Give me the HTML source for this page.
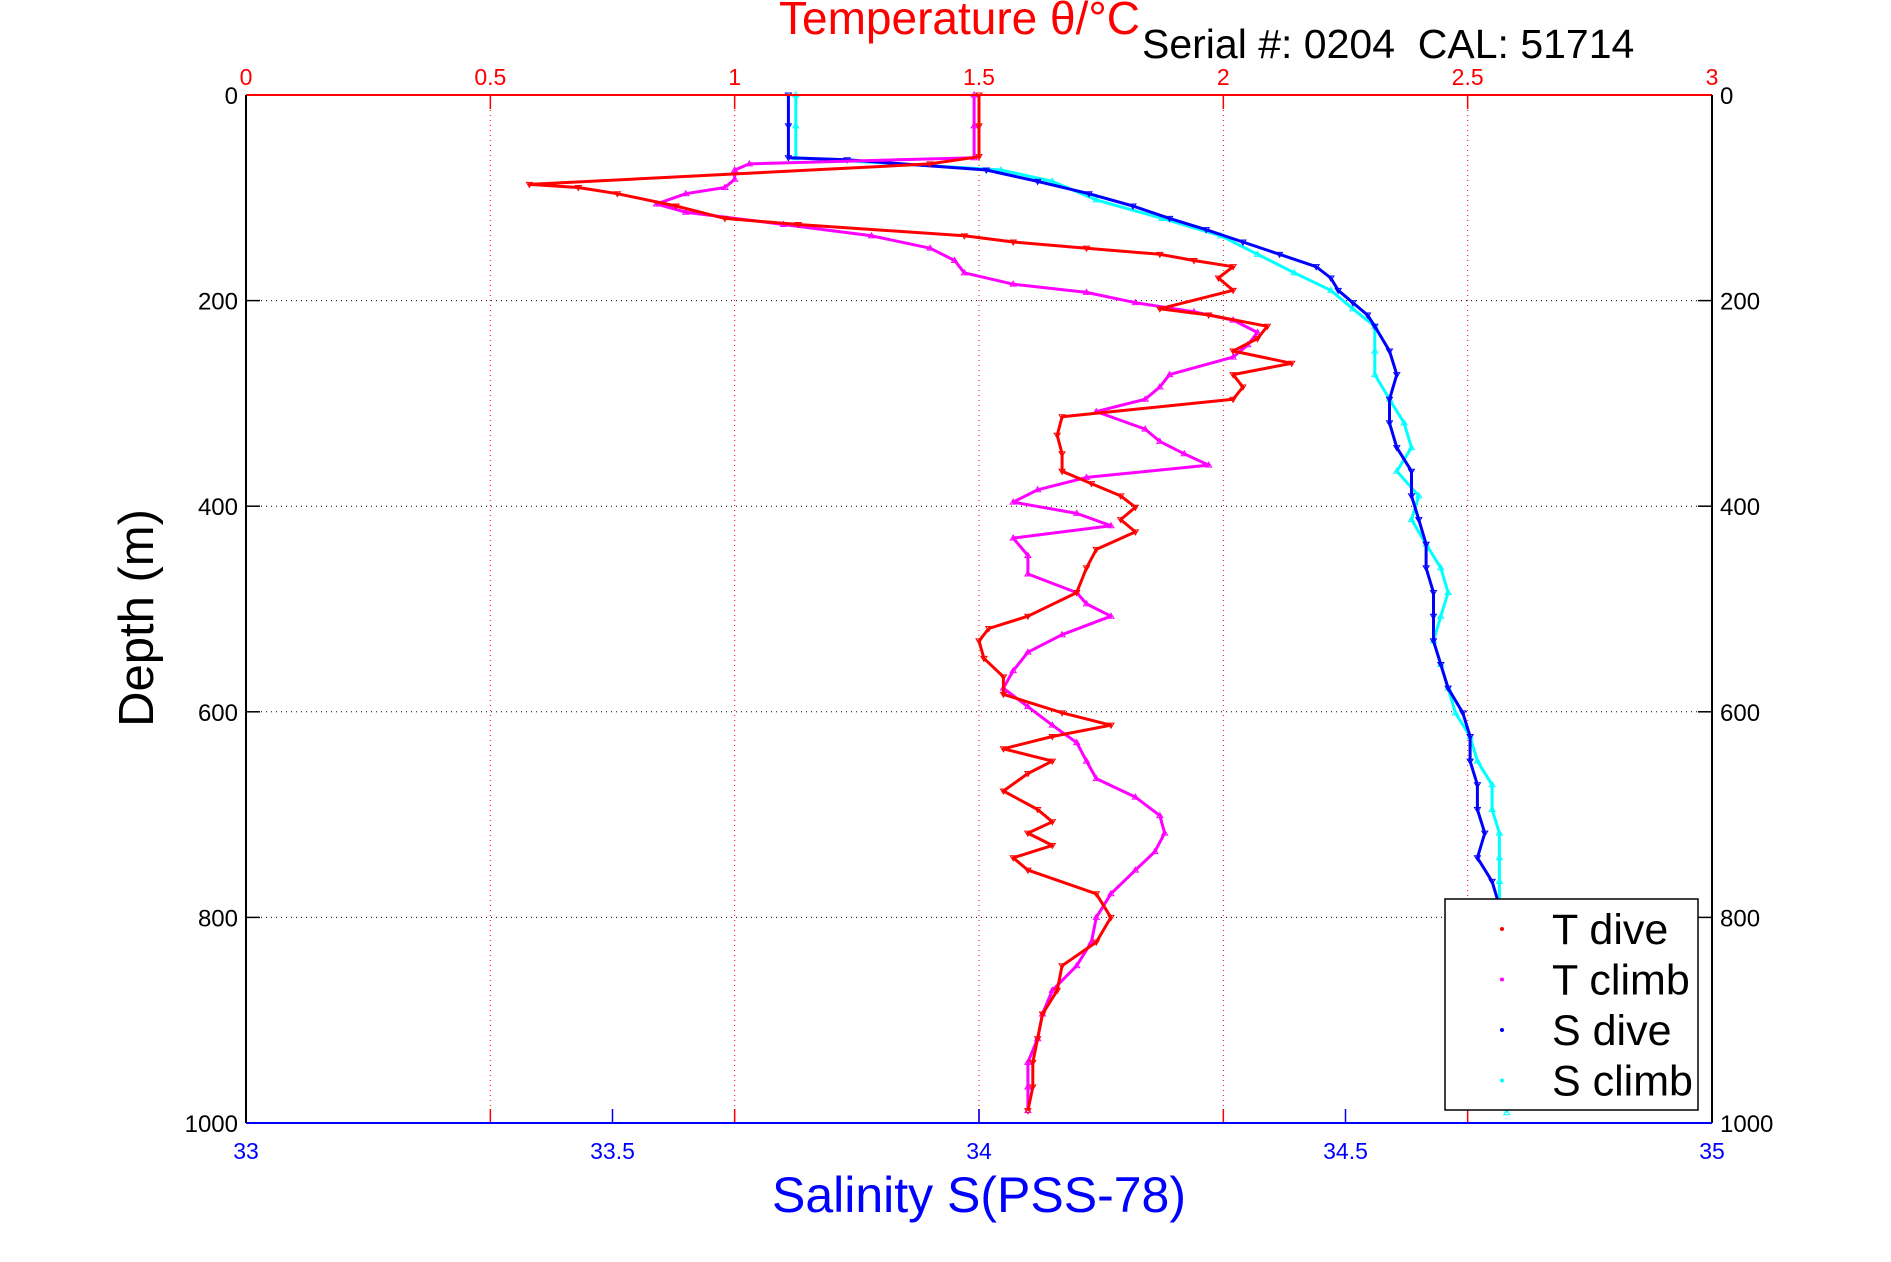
<!DOCTYPE html>
<html><head><meta charset="utf-8"><style>
html,body{margin:0;padding:0;background:#fff;}
svg{display:block;font-family:"Liberation Sans",sans-serif;}
</style></head><body>
<svg id="chart" width="1891" height="1262" viewBox="0 0 1891 1262" xmlns="http://www.w3.org/2000/svg">
<rect width="1891" height="1262" fill="#fff"/>
<g id="grid"></g>
<g id="series"></g>
<g id="axes"></g>
<text x="779" y="34" font-size="46" fill="#ff0000">Temperature θ/°C</text>
<text x="1142" y="58" font-size="41" fill="#000" xml:space="preserve">Serial #: 0204  CAL: 51714</text>
<text x="979" y="1212" font-size="50" fill="#0000ff" text-anchor="middle">Salinity S(PSS-78)</text>
<text transform="translate(153,618) rotate(-90)" font-size="49" fill="#000" text-anchor="middle">Depth (m)</text>
<g>
<rect x="1445" y="899" width="253" height="211" fill="#fff" stroke="#000" stroke-width="1.5"/>
<g id="legend-items"></g>
</g>
</svg>
<script>
const tDiveDepth=[0,30,60,67,87,90,96,108,120,126,137,143,149,155,161,167,178,190,208,214,225,237,249,261,272,284,296,313,331,349,366,378,390,401,413,425,442,460,484,507,519,531,548,566,583,601,613,624,636,648,660,677,695,707,718,730,742,754,777,800,824,847,871,894,918,941,965,988];
const tDiveVal=[1.50,1.50,1.50,1.40,0.58,0.68,0.76,0.88,0.98,1.13,1.47,1.57,1.72,1.87,1.94,2.02,1.99,2.02,1.87,1.97,2.09,2.07,2.02,2.14,2.02,2.04,2.02,1.67,1.66,1.67,1.67,1.73,1.79,1.82,1.79,1.82,1.74,1.72,1.70,1.60,1.52,1.50,1.51,1.55,1.55,1.67,1.77,1.65,1.55,1.65,1.60,1.55,1.62,1.65,1.60,1.65,1.57,1.60,1.74,1.77,1.74,1.67,1.66,1.63,1.62,1.61,1.61,1.60];
const tClimbDepth=[0,30,61,67,73,82,90,96,106,114,126,137,149,161,173,184,192,202,211,219,231,243,255,272,284,296,308,325,337,349,360,372,384,396,407,419,431,448,466,484,495,507,525,542,560,577,595,613,630,648,665,683,701,718,736,754,777,800,824,847,871,894,918,941,965,988];
const tClimbVal=[1.49,1.49,1.49,1.03,1.00,1.00,0.98,0.90,0.84,0.90,1.10,1.28,1.40,1.45,1.47,1.57,1.72,1.82,1.94,2.02,2.07,2.05,2.02,1.89,1.87,1.84,1.74,1.84,1.87,1.92,1.97,1.72,1.62,1.57,1.70,1.77,1.57,1.60,1.60,1.70,1.72,1.77,1.67,1.60,1.57,1.55,1.60,1.65,1.70,1.72,1.74,1.82,1.87,1.88,1.86,1.82,1.77,1.74,1.73,1.70,1.65,1.63,1.62,1.60,1.60,1.60];
const sDiveDepth=[0,30,61,63,73,84,96,108,120,131,143,155,167,178,190,202,214,225,249,272,296,319,343,366,390,413,437,460,484,507,531,554,577,601,624,648,671,695,718,742,765,789];
const sDiveVal=[33.74,33.74,33.74,33.82,34.01,34.08,34.15,34.21,34.26,34.31,34.36,34.41,34.46,34.48,34.49,34.51,34.53,34.54,34.56,34.57,34.56,34.56,34.57,34.59,34.59,34.60,34.61,34.61,34.62,34.62,34.62,34.63,34.64,34.66,34.67,34.67,34.68,34.68,34.69,34.68,34.70,34.71];
const sClimbDepth=[0,30,61,73,84,102,120,137,155,173,190,208,225,249,272,296,319,343,366,390,413,437,460,484,507,531,554,577,601,624,648,671,695,718,742,765,789,990];
const sClimbVal=[33.75,33.75,33.75,34.03,34.10,34.16,34.25,34.33,34.38,34.43,34.48,34.51,34.54,34.54,34.54,34.56,34.58,34.59,34.57,34.60,34.59,34.61,34.63,34.64,34.63,34.62,34.63,34.64,34.65,34.67,34.68,34.70,34.70,34.71,34.71,34.71,34.71,34.72];
const tTicks=[0,0.5,1,1.5,2,2.5,3];
const tTickLabels=["0","0.5","1","1.5","2","2.5","3"];
const sTicks=[33,33.5,34,34.5,35];
const sTickLabels=["33","33.5","34","34.5","35"];
const dTicks=[0,200,400,600,800,1000];
const dTickLabels=["0","200","400","600","800","1000"];

const L=246,R=1712,T=95,B=1123;
const xT=v=>L+(v-0)/3*(R-L);
const xS=v=>L+(v-33)/2*(R-L);
const yD=d=>T+d/1000*(B-T);
const NS="http://www.w3.org/2000/svg";
function mk(tag,parent,attrs){const e=document.createElementNS(NS,tag);for(const k in attrs)e.setAttribute(k,attrs[k]);parent.appendChild(e);return e;}
const grid=document.getElementById('grid'),axes=document.getElementById('axes'),ser=document.getElementById('series');

tTicks.forEach((v,i)=>{
  const x=xT(v);
  if(i>0&&i<tTicks.length-1){
    const g=mk('line',grid,{x1:x,y1:T,x2:x,y2:B,stroke:'#ff0000','stroke-width':1,'stroke-dasharray':'1,4'});
    
    
    const tk=mk('line',axes,{x1:x,y1:T,x2:x,y2:T+14,stroke:'#ff0000','stroke-width':1.5});
    
    
    const tb=mk('line',axes,{x1:x,y1:B,x2:x,y2:B-14,stroke:'#ff0000','stroke-width':1.5});
    
    
  }
  const t=mk('text',axes,{x:x,y:T-10,'font-size':23,fill:'#ff0000','text-anchor':'middle'});
  t.textContent=tTickLabels[i];
  
  
});
dTicks.forEach((d,i)=>{
  const y=yD(d);
  if(i>0&&i<dTicks.length-1){
    const g=mk('line',grid,{x1:L,y1:y,x2:R,y2:y,stroke:'#000','stroke-width':1,'stroke-dasharray':'1,4'});
    
    
    const a=mk('line',axes,{x1:L,y1:y,x2:L+14,y2:y,stroke:'#000','stroke-width':1.5});
    
    
    const b=mk('line',axes,{x1:R,y1:y,x2:R-14,y2:y,stroke:'#000','stroke-width':1.5});
    
    
  }
  const tl=mk('text',axes,{x:L-8,y:y+9,'font-size':24,fill:'#000','text-anchor':'end'});
  tl.textContent=dTickLabels[i];
  
  
  const tr=mk('text',axes,{x:R+8,y:y+9,'font-size':24,fill:'#000','text-anchor':'start'});
  tr.textContent=dTickLabels[i];
  
  
});
sTicks.forEach((v,i)=>{
  const x=xS(v);
  if(i>0&&i<sTicks.length-1){
    const tk=mk('line',axes,{x1:x,y1:B,x2:x,y2:B-14,stroke:'#0000ff','stroke-width':1.5});
    
    
  }
  const t=mk('text',axes,{x:x,y:B+36,'font-size':23,fill:'#0000ff','text-anchor':'middle'});
  t.textContent=sTickLabels[i];
  
  
});
let f=mk('line',axes,{x1:L,y1:T,x2:R,y2:T,stroke:'#ff0000','stroke-width':2});


f=mk('line',axes,{x1:L,y1:B,x2:R,y2:B,stroke:'#0000ff','stroke-width':2});


f=mk('line',axes,{x1:L,y1:T,x2:L,y2:B,stroke:'#000','stroke-width':2});


f=mk('line',axes,{x1:R,y1:T,x2:R,y2:B,stroke:'#000','stroke-width':2});



function series(depths,vals,xf,color,name,up){
  const g=mk('g',ser,{});
  
  
  const pts=depths.map((d,i)=>xf(vals[i]).toFixed(1)+','+yD(d).toFixed(1)).join(' ');
  const pl=mk('polyline',g,{points:pts,fill:'none',stroke:color,'stroke-width':3,'stroke-linejoin':'round'});
  
  
  depths.forEach((d,i)=>{
    const x=xf(vals[i]),y=yD(d);
    const p=up?`${x-3},${y+2} ${x+3},${y+2} ${x},${y-3}`:`${x-3},${y-2} ${x+3},${y-2} ${x},${y+3}`;
    const m=mk('polygon',g,{points:p,fill:'none',stroke:color,'stroke-width':1});
    
    
  });
}
series(sClimbDepth,sClimbVal,xS,'#00ffff','s-climb',true);
series(sDiveDepth,sDiveVal,xS,'#0000ff','s-dive',false);
series(tClimbDepth,tClimbVal,xT,'#ff00ff','t-climb',true);
series(tDiveDepth,tDiveVal,xT,'#ff0000','t-dive',false);

const legNames=["T dive","T climb","S dive","S climb"];
const legColors=["#ff0000","#ff00ff","#0000ff","#00ffff"];
const li=document.getElementById('legend-items');
legNames.forEach((n,i)=>{
  const y=929+i*50.5;
  const g=mk('g',li,{});
  
  
  const m=mk('circle',g,{cx:1502,cy:y,r:2,fill:legColors[i]});
  
  
  const t=mk('text',g,{x:1552,y:y+15,'font-size':43,fill:'#000'});
  t.textContent=n;
  
  
});
</script>
</body></html>
